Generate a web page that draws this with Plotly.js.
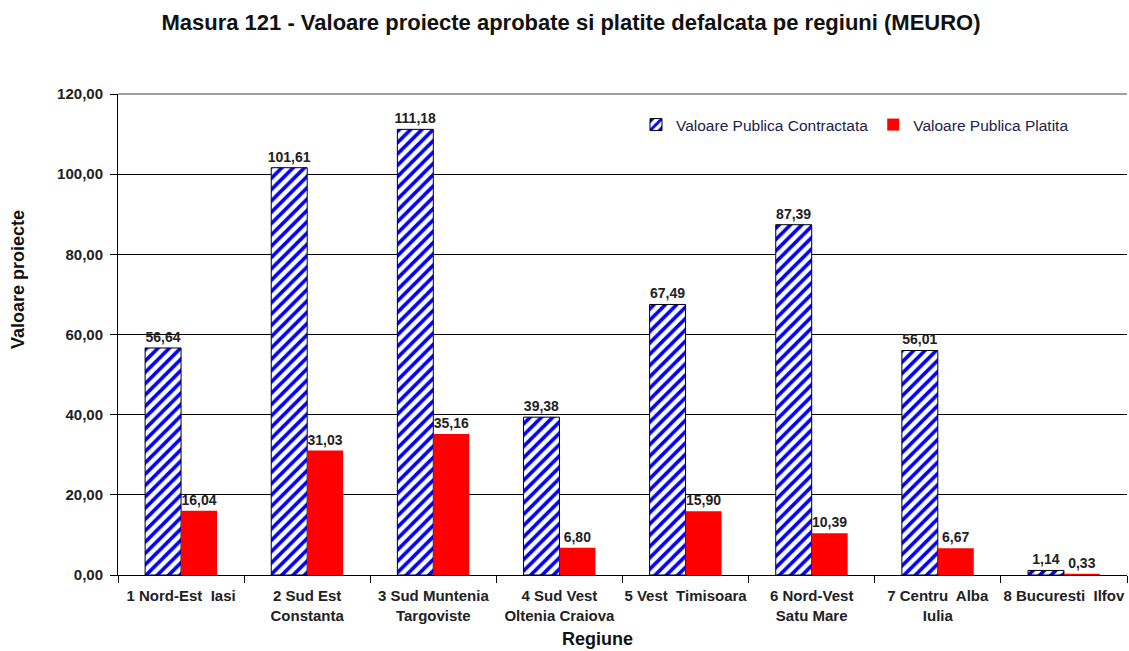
<!DOCTYPE html>
<html><head><meta charset="utf-8">
<script src="https://cdn.plot.ly/plotly-3.0.1.min.js"></script>
<style>html,body{margin:0;padding:0;background:#fff}#chart{width:1129px;height:651px}</style>
</head><body><div id="chart"></div>
<script>
const categories = ["1 Nord-Est  Iasi", "2 Sud Est<br>Constanta", "3 Sud Muntenia<br>Targoviste", "4 Sud Vest<br>Oltenia Craiova", "5 Vest  Timisoara", "6 Nord-Vest<br>Satu Mare", "7 Centru  Alba<br>Iulia", "8 Bucuresti  Ilfov"];
const contractata = [56.64, 101.61, 111.18, 39.38, 67.49, 87.39, 56.01, 1.14];
const platita = [16.04, 31.03, 35.16, 6.80, 15.90, 10.39, 6.67, 0.33];
const seriesNames = ["Valoare Publica Contractata", "Valoare Publica Platita"];

const F = "Liberation Sans, Arial, sans-serif";
const W = 1129, H = 651, ML = 118, MR = 2, MT = 94, MB = 76;
const pw = W - ML - MR, ph = H - MT - MB;
const px = x => (x - ML) / pw;
const py = y => (H - MB - y) / ph;

const data = [
  {type:'bar', x:categories, y:contractata, name:seriesNames[0],
   marker:{color:'#ffffff', pattern:{shape:'/', fgcolor:'#0000ff', bgcolor:'#ffffff', size:8, solidity:0.45, fillmode:'replace'}, line:{color:'#000000', width:1}},
   texttemplate:'%{y:.2f}', textposition:'outside', cliponaxis:false, constraintext:'none',
   textfont:{family:F, size:14, color:'#222', weight:'bold'}},
  {type:'bar', x:categories, y:platita, name:seriesNames[1],
   marker:{color:'#ff0000', line:{width:0}},
   texttemplate:'%{y:.2f}', textposition:'outside', cliponaxis:false, constraintext:'none',
   textfont:{family:F, size:14, color:'#222', weight:'bold'}}
];
const layout = {
  width:W, height:H,
  margin:{l:ML, r:MR, t:MT, b:MB},
  paper_bgcolor:'#fff', plot_bgcolor:'#fff',
  separators:',.',
  font:{family:F, color:'#222'},
  title:{text:'<b>Masura 121 - Valoare proiecte aprobate si platite defalcata pe regiuni (MEURO)</b>', x:571/W, xanchor:'center', y:1-22/H, yanchor:'middle', font:{family:F, size:22, color:'#111'}},
  barmode:'group', bargap:0.43, bargroupgap:0,
  xaxis:{type:'category', tickson:'boundaries', ticks:'outside', ticklen:7, tickcolor:'#000', showline:true, linecolor:'#000', linewidth:1,
    showgrid:false, tickangle:0, ticklabelstandoff:7, tickfont:{family:F, size:15, color:'#222', weight:'bold'}},
  yaxis:{range:[0,120], dtick:20, tickformat:'.2f', ticks:'outside', ticklen:7, tickcolor:'#000', showline:true, linecolor:'#000', linewidth:1,
    showgrid:true, gridcolor:'#000', gridwidth:1, zeroline:false, ticklabelstandoff:4,
    tickfont:{family:F, size:15, color:'#222', weight:'bold'}},
  legend:{orientation:'h', x:px(636), y:py(125), xanchor:'left', yanchor:'middle', bgcolor:'rgba(255,255,255,0)', borderwidth:0,
    font:{family:F, size:15.5, color:'#22224a'}, traceorder:'normal'},
  showlegend:true,
  shapes:[{type:'line', xref:'paper', yref:'paper', x0:0, x1:1, y0:1, y1:1, line:{color:'#a0a0a0', width:2}, layer:'above'}],
  annotations:[
    {text:'<b>Valoare proiecte</b>', textangle:-90, xref:'paper', yref:'paper', x:px(18), y:py(280), xanchor:'center', yanchor:'middle', showarrow:false, font:{family:F, size:18, color:'#111'}},
    {text:'<b>Regiune</b>', xref:'paper', yref:'paper', x:px(597), y:py(639), xanchor:'center', yanchor:'middle', showarrow:false, font:{family:F, size:18, color:'#111'}}
  ]
};
Plotly.newPlot('chart', data, layout, {displayModeBar:false, staticPlot:true});
</script></body></html>
